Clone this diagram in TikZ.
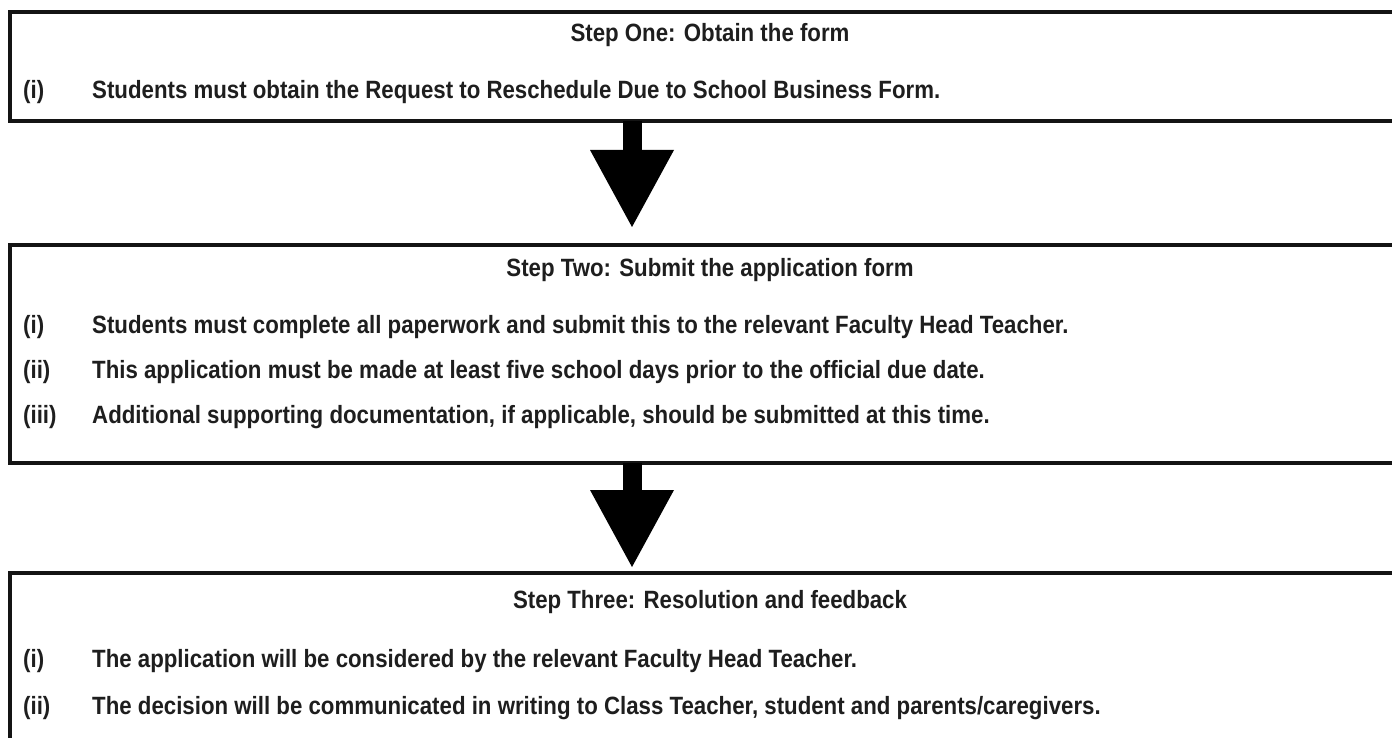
\documentclass[tikz,border=0pt]{standalone}
\usepackage{fontspec}
\setmainfont{Liberation Sans}[FakeStretch=0.89]
\usetikzlibrary{arrows.meta, positioning, calc}
\definecolor{ink}{RGB}{30,30,30}
\definecolor{frame}{RGB}{20,20,20}
\tikzset{
  stepbox/.style={
    draw=frame,
    line width=3.6pt,
    minimum width=1400pt,
    outer sep=0pt,
    inner sep=0pt,
    fill=white
  },
  steptitle/.style={font=\fontsize{25}{30}\selectfont\bfseries, text=ink, inner sep=0pt, anchor=base},
  itemlabel/.style={font=\fontsize{25}{30}\selectfont\bfseries, text=ink, inner sep=0pt, anchor=base west},
  itemtext/.style={font=\fontsize{25}{30}\selectfont\bfseries, text=ink, inner sep=0pt, anchor=base west},
  flow/.style={-{Triangle[length=77pt,width=84pt,line width=0pt]}, line width=19pt, draw=black}
}

\begin{document}
\begin{tikzpicture}[x=1pt, y=1pt]
  \useasboundingbox (0,0) rectangle (1392,-738);
  \clip (0,0) rectangle (1392,-738);

  \node[stepbox, minimum height=109pt, anchor=north west] (stepOne) at (10,-12) {};
  \node[stepbox, minimum height=218pt, below=124pt of stepOne] (stepTwo) {};
  \node[stepbox, minimum height=190pt, below=110pt of stepTwo] (stepThree) {};

  % step one
  \node[steptitle] (oneTitle) at ([yshift=-30pt]stepOne.north) {Step One: Obtain the form};
  \node[itemlabel] (oneA) at (23,-99) {(i)};
  \node[itemtext] (oneAText) at (92,-99) {Students must obtain the Request to Reschedule Due to School Business Form.};

  % step two
  \node[steptitle] (twoTitle) at ([yshift=-31pt]stepTwo.north) {Step Two: Submit the application form};
  \node[itemlabel] (twoA) at (23,-333) {(i)};
  \node[itemtext] (twoAText) at (92,-333) {Students must complete all paperwork and submit this to the relevant Faculty Head Teacher.};
  \node[itemlabel] (twoB) at (23,-378) {(ii)};
  \node[itemtext] (twoBText) at (92,-378) {This application must be made at least five school days prior to the official due date.};
  \node[itemlabel] (twoC) at (23,-423) {(iii)};
  \node[itemtext] (twoCText) at (92,-423) {Additional supporting documentation, if applicable, should be submitted at this time.};

  % step three
  \node[steptitle] (threeTitle) at ([yshift=-35pt]stepThree.north) {Step Three: Resolution and feedback};
  \node[itemlabel] (threeA) at (23,-667) {(i)};
  \node[itemtext] (threeAText) at (92,-667) {The application will be considered by the relevant Faculty Head Teacher.};
  \node[itemlabel] (threeB) at (23,-714) {(ii)};
  \node[itemtext] (threeBText) at (92,-714) {The decision will be communicated in writing to Class Teacher, student and parents/caregivers.};

  \draw[flow, shorten >=18pt] ([xshift=-78pt]stepOne.south) -- ([xshift=-78pt]stepTwo.north);
  \draw[flow, shorten >=6pt] ([xshift=-78pt]stepTwo.south) -- ([xshift=-78pt]stepThree.north);
\end{tikzpicture}
\end{document}
